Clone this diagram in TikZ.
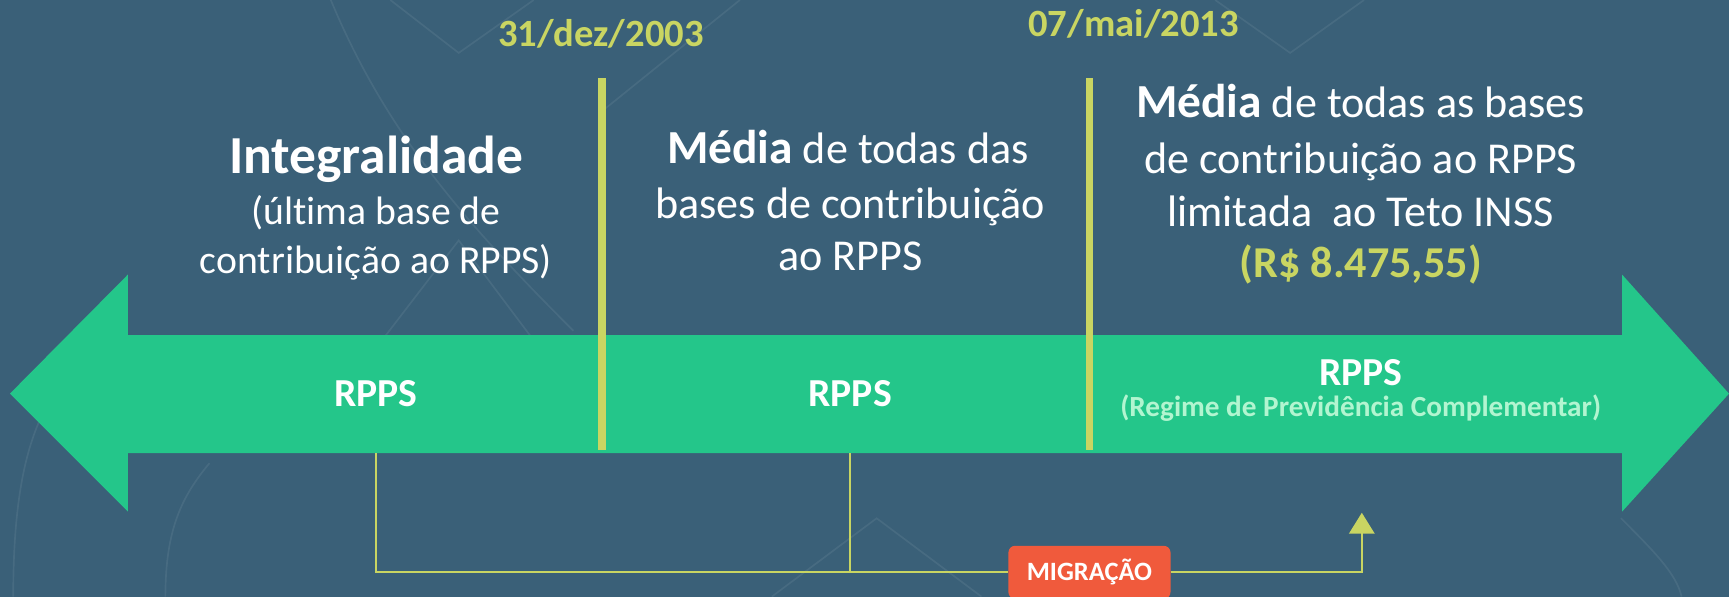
\documentclass[tikz,border=0pt]{standalone}
\usepackage{fontspec}
\setmainfont[Ligatures=NoCommon]{Carlito}
\usetikzlibrary{arrows.meta}
\definecolor{bgc}{RGB}{58,96,120}
\definecolor{arrowgreen}{RGB}{36,198,138}
\definecolor{limey}{RGB}{201,213,98}
\definecolor{migred}{RGB}{240,90,60}
\definecolor{subgreen}{RGB}{178,245,208}
\tikzset{
  divider/.style={limey,line width=7pt},
  conn/.style={limey,line width=2pt},
  datelabel/.style={anchor=base,text=limey,font=\bfseries\fontsize{35}{40}\selectfont,inner sep=0pt},
  bodytext/.style={anchor=base,text=white,inner sep=0pt},
  rppslabel/.style={anchor=base,text=white,font=\bfseries\fontsize{36}{40}\selectfont,inner sep=0pt},
  migbox/.style={fill=migred,rounded corners=6pt,minimum width=147pt,minimum height=48pt,inner sep=0pt,text=white,font=\bfseries\fontsize{24}{28}\selectfont},
  deco/.style={white,opacity=0.07,line width=1.5pt}
}
\begin{document}
\begin{tikzpicture}[x=1pt,y=-1pt]
\useasboundingbox (0,0) rectangle (1568,541);
\fill[bgc] (0,0) rectangle (1568,541);
% faint background pattern
\draw[deco] (354,0) -- (416,48) -- (484,0);
\draw[deco] (1102,0) -- (1170,48) -- (1237,0);
\draw[deco] (300,0) .. controls (350,120) and (420,200) .. (520,300);
\draw[deco] (671,0) -- (547,100);
\draw[deco] (330,330) -- (416,218) -- (500,330);
\draw[deco] (700,541) -- (795,470) -- (890,541);
\draw[deco] (12,541) .. controls (12,430) and (30,380) .. (60,340);
\draw[deco] (150,541) .. controls (150,480) and (165,450) .. (190,420);
\draw[deco] (1470,470) .. controls (1500,500) and (1520,520) .. (1525,541);
% main double arrow
\fill[arrowgreen] (9,357) -- (116,249) -- (116,304) -- (1471,304) -- (1471,249)
  -- (1568,357) -- (1471,464) -- (1471,411) -- (116,411) -- (116,464) -- cycle;
% dividers
\coordinate (d1top) at (546,71);
\coordinate (d1bot) at (546,408);
\coordinate (d2top) at (988,71);
\coordinate (d2bot) at (988,408);
\draw[divider] (d1top) -- (d1bot);
\draw[divider] (d2top) -- (d2bot);
% dates
\node[datelabel] (date1) at (545,42) {31/dez/2003};
\node[datelabel] (date2) at (1028,33) {07/mai/2013};
% left block
\node[bodytext,font=\bfseries\fontsize{48.5}{52}\selectfont] (l1) at (341,157) {Integralidade};
\node[bodytext,font=\fontsize{36}{40}\selectfont] (l2) at (341,204) {(última base de};
\node[bodytext,font=\fontsize{36}{40}\selectfont] (l3) at (341,248) {contribuição ao RPPS)};
% middle block
\node[bodytext,font=\fontsize{40}{44}\selectfont] (m1) at (769,148) {{\bfseries\fontsize{43}{46}\selectfont Média} de todas das};
\node[bodytext,font=\fontsize{40}{44}\selectfont] (m2) at (771,198) {bases de contribuição};
\node[bodytext,font=\fontsize{40}{44}\selectfont] (m3) at (771,245) {ao RPPS};
% right block
\node[bodytext,font=\fontsize{40}{44}\selectfont] (r1) at (1234,107) {{\bfseries\fontsize{43}{46}\selectfont Média} de todas as bases};
\node[bodytext,font=\fontsize{40}{44}\selectfont] (r2) at (1234,157) {de contribuição ao RPPS};
\node[bodytext,font=\fontsize{40}{44}\selectfont] (r3) at (1234,205) {limitada\ \ ao Teto INSS};
\node[bodytext,text=limey,font=\bfseries\fontsize{40}{44}\selectfont] (r4) at (1234,252) {(R\$ 8.475,55)};
% arrow labels
\node[rppslabel] (rpps1) at (341,369) {RPPS};
\node[rppslabel] (rpps2) at (771,369) {RPPS};
\node[rppslabel] (rpps3) at (1234,350) {RPPS};
\node[anchor=base,inner sep=0pt,text=subgreen,font=\bfseries\fontsize{26.5}{30}\selectfont] (rpc) at (1234,378) {(Regime de Previdência Complementar)};
% migration connector
\node[migbox] (mig) at (988,519) {MIGRAÇÃO};
\coordinate (s1) at (341,411);
\coordinate (s2) at (770.5,411);
\coordinate (tgt) at (1235,465);
\draw[conn] (s1) |- (mig.west);
\draw[conn] (s2) -- (s2 |- mig.west);
\draw[conn,-{Triangle[length=19pt,width=23pt]}] (mig.east) -| (tgt);
\end{tikzpicture}
\end{document}
